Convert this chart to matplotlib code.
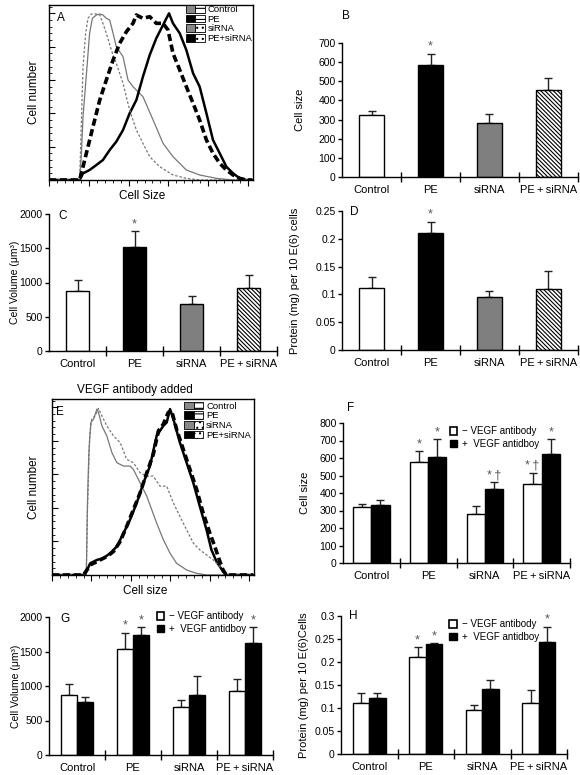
import matplotlib
matplotlib.use('Agg')
import matplotlib.pyplot as plt
from matplotlib.patches import Patch
from matplotlib.legend_handler import HandlerTuple
from matplotlib.ticker import AutoMinorLocator, MultipleLocator, FuncFormatter
import numpy as np

plt.rcParams['font.family'] = ['Liberation Sans', 'DejaVu Sans']
plt.rcParams['hatch.linewidth'] = 0.8

W, H = 580, 775

cats = ['Control', 'PE', 'siRNA', 'PE\u2009+\u2009siRNA']
hist_names = ['Control', 'PE', 'siRNA', 'PE+siRNA']

# ---- histogram A (x: channel, y: counts) ----
A_ctrl_x = [0, 15.4, 16.2, 17.1, 17.9, 19.1, 20.4, 21.8, 23.8, 25.5, 27.1, 28.8, 30.5, 32.2, 33.8, 35.5,
            37.2, 39.7, 42.2, 44.7, 47.2, 52.3, 57.3, 62.3, 69.0, 75.7, 84.1, 92.5, 102]
A_ctrl_y = [0, 0, 70, 190, 250, 340, 440, 485, 495, 498, 495, 485, 480, 440, 400, 385,
            370, 300, 280, 265, 250, 180, 110, 70, 30, 15, 5, 0, 0]
A_pe_x = [0, 15.4, 17.1, 20.4, 23.8, 27.1, 30.5, 33.8, 37.2, 40.5, 43.9, 47.2, 50.6, 53.9, 57.3, 59.0,
          60.3, 62.3, 65.7, 69.0, 72.4, 75.7, 79.1, 82.4, 85.8, 89.1, 92.5, 95.8, 99.2, 102]
A_pe_y = [0, 0, 20, 30, 45, 60, 90, 115, 150, 200, 240, 310, 375, 425, 465, 485,
          500, 470, 440, 390, 320, 280, 200, 120, 80, 40, 20, 5, 0, 0]
A_si_x = [0, 15.4, 17.1, 18.4, 19.6, 21.3, 23.8, 25.5, 27.1, 28.8, 31.3, 33.8, 37.2, 40.5, 43.9, 47.2,
          50.6, 55.6, 62.3, 69.0, 75.7, 102]
A_si_y = [0, 0, 340, 440, 485, 498, 498, 495, 470, 440, 390, 350, 290, 210, 150, 110,
          70, 40, 15, 5, 0, 0]
A_pesi_x = [0, 15.4, 17.1, 19.6, 22.1, 25.5, 28.8, 32.2, 35.5, 38.9, 42.2, 43.9, 47.2, 50.6, 53.9, 57.3,
            59.8, 62.3, 65.7, 69.0, 72.4, 75.7, 79.1, 82.4, 85.8, 89.1, 92.5, 95.8, 99.2, 102]
A_pesi_y = [0, 0, 40, 100, 160, 240, 300, 360, 410, 445, 470, 495, 485, 490, 470, 470,
            450, 380, 330, 280, 230, 180, 120, 80, 50, 30, 15, 5, 0, 0]

# ---- histogram E (VEGF antibody added) ----
E_ctrl_x = [0, 17.4, 18.0, 18.7, 19.7, 21.1, 22.8, 23.6, 25.3, 27.8, 30.4, 32.9, 36.3, 39.6, 41.3, 44.7,
            48.1, 50.6, 53.1, 56.5, 59.9, 63.2, 68.3, 73.4, 78.4, 102]
E_ctrl_y = [0, 0, 215, 365, 455, 465, 495, 485, 445, 415, 365, 335, 325, 325, 315, 275,
            235, 195, 155, 105, 65, 35, 15, 5, 0, 0]
E_pe_x = [0, 16.0, 17.4, 19.4, 22.8, 26.1, 29.5, 32.9, 36.3, 39.6, 43.0, 46.4, 49.7, 53.1, 56.5, 58.2,
          59.9, 61.6, 64.9, 68.3, 71.7, 75.0, 78.4, 80.9, 83.5, 85.2, 86.8, 88.5, 102]
E_pe_y = [0, 0, 10, 35, 45, 50, 65, 85, 125, 165, 215, 275, 325, 415, 445, 455,
          495, 465, 395, 335, 275, 205, 135, 75, 40, 25, 10, 0, 0]
E_si_x = [0, 17.4, 18.0, 19.1, 20.2, 21.9, 23.6, 25.3, 27.8, 31.2, 34.6, 37.9, 41.3, 44.7, 48.1, 51.4,
          54.8, 58.2, 61.6, 64.9, 68.3, 71.7, 75.0, 78.4, 81.8, 85.2, 86.8, 88.5, 102]
E_si_y = [0, 0, 195, 415, 465, 475, 497, 475, 445, 415, 395, 345, 335, 305, 295, 295,
          265, 265, 215, 175, 135, 95, 75, 60, 45, 25, 10, 0, 0]
E_pesi_x = [0, 16.0, 17.7, 19.4, 22.8, 27.8, 31.2, 34.6, 37.9, 41.3, 44.7, 48.1, 51.4, 54.0, 56.5, 59.0,
            60.7, 63.2, 66.6, 70.0, 73.4, 76.7, 80.1, 82.6, 85.2, 86.8, 88.5, 102]
E_pesi_y = [0, 0, 15, 30, 40, 55, 70, 100, 145, 195, 245, 305, 360, 430, 450, 485,
            490, 435, 375, 315, 255, 185, 125, 85, 40, 15, 0, 0]

# ---- single-bar panels ----
B_mean = [326, 584, 284, 453]
B_err = [17, 61, 44, 66]
C_mean = [871, 1525, 692, 920]
C_err = [160, 232, 116, 193]
D_mean = [0.111, 0.211, 0.096, 0.110]
D_err = [0.020, 0.020, 0.011, 0.032]
single_marks = ['', '*', '', '']

# ---- paired panels (- / + VEGF antibody) ----
F_minus = [318, 580, 279, 450]
F_minus_err = [19, 60, 46, 67]
F_plus = [333, 605, 423, 622]
F_plus_err = [27, 105, 38, 88]
F_minus_marks = ['', '*', '', '*\u2009\u2020']
F_plus_marks = ['', '*', '*\u2009\u2020', '*']

G_minus = [875, 1530, 690, 923]
G_minus_err = [160, 244, 112, 185]
G_plus = [762, 1739, 875, 1628]
G_plus_err = [73, 117, 266, 228]

H_minus = [0.111, 0.210, 0.096, 0.111]
H_minus_err = [0.021, 0.022, 0.011, 0.029]
H_plus = [0.122, 0.239, 0.141, 0.244]
H_plus_err = [0.010, 0.003, 0.020, 0.033]
GH_minus_marks = ['', '*', '', '']
GH_plus_marks = ['', '*', '', '*']

fig = plt.figure(figsize=(W / 100, H / 100), dpi=100)


def add_ax(l, t, r, b):
    return fig.add_axes([l / W, 1 - b / H, (r - l) / W, (b - t) / H])


def fmt_num(v, pos):
    return '%g' % v


def hist_panel(ax, curves, xlabel, xlab_pos, ylab_x, leg_pos):
    styles = [dict(color='#777777', lw=0.9, ls='-'),
              dict(color='black', lw=1.8, ls='-'),
              dict(color='#777777', lw=0.9, ls=(0, (2, 1.5))),
              dict(color='black', lw=2.6, ls=(0, (2, 1)))]
    for (x, y), st in zip(curves, styles):
        ax.plot(x, y, **st)
    ax.set_xlim(0, 102.5)
    ax.set_ylim(0, 525)
    ax.xaxis.set_major_locator(MultipleLocator(20))
    ax.xaxis.set_minor_locator(AutoMinorLocator(5))
    ax.yaxis.set_major_locator(MultipleLocator(100))
    ax.yaxis.set_minor_locator(AutoMinorLocator(5))
    ax.tick_params(axis='x', which='major', direction='out', length=4, labelbottom=False)
    ax.tick_params(axis='x', which='minor', direction='out', length=2)
    ax.tick_params(axis='y', which='major', direction='in', length=4, labelleft=False)
    ax.tick_params(axis='y', which='minor', direction='in', length=2)
    for s in ax.spines.values():
        s.set_linewidth(1)
    ax.set_xlabel(xlabel, fontsize=8.5)
    ax.xaxis.set_label_coords(*xlab_pos)
    ax.set_ylabel('Cell number', fontsize=8.5)
    ax.yaxis.set_label_coords(ylab_x, 0.5)
    handles = []
    for i in range(4):
        fc = '#888888' if i in (0, 2) else 'black'
        hatch = '---' if i < 2 else '...'
        handles.append((Patch(facecolor=fc, edgecolor='black', lw=0.6),
                        Patch(facecolor='white', edgecolor='black', hatch=hatch, lw=0.6)))
    ax.legend(handles, hist_names, handler_map={tuple: HandlerTuple(ndivide=None, pad=0)},
              loc='upper left', bbox_to_anchor=leg_pos, frameon=False, fontsize=6.8,
              handlelength=2.0, handleheight=0.9, handletextpad=0.3, labelspacing=0.05,
              borderaxespad=0, borderpad=0)


def bar_base(ax, ymax, ystep, ylabel, ylab_x, ylab_size=8):
    ax.set_xlim(-0.5, 3.5)
    ax.set_ylim(0, ymax)
    ax.yaxis.set_major_locator(MultipleLocator(ystep))
    ax.yaxis.set_major_formatter(FuncFormatter(fmt_num))
    ax.spines['top'].set_visible(False)
    ax.spines['right'].set_visible(False)
    ax.spines['left'].set_linewidth(1)
    ax.spines['bottom'].set_linewidth(1)
    ax.set_xticks([0.5, 1.5, 2.5, 3.5])
    ax.set_xticklabels([])
    ax.set_xticks([0, 1, 2, 3], minor=True)
    ax.set_xticklabels(cats, minor=True, fontsize=8)
    ax.tick_params(axis='x', which='major', direction='inout', length=7, width=1)
    ax.tick_params(axis='x', which='minor', length=0, pad=6)
    ax.tick_params(axis='y', direction='out', length=3, width=1, labelsize=7.5, pad=1.5)
    ax.set_ylabel(ylabel, fontsize=ylab_size)
    ax.yaxis.set_label_coords(ylab_x, 0.5)


def put_marks(ax, xs, tops, marks):
    for x, t, m in zip(xs, tops, marks):
        if m:
            ax.annotate(m, (x, t), xytext=(0, 0.5), textcoords='offset points',
                        ha='center', va='bottom', fontsize=9, color='#555555')


def single_panel(ax, mean, err, ymax, ystep, ylabel, ylab_x, ylab_size=8):
    x = np.arange(4)
    faces = ['white', 'black', '#7f7f7f', 'white']
    hatches = [None, None, None, '\\\\\\\\\\\\\\\\']
    for xi, m, fc, h in zip(x, mean, faces, hatches):
        ax.bar(xi, m, width=0.42, color=fc, edgecolor='black', linewidth=1, hatch=h, zorder=2)
    ax.errorbar(x, mean, yerr=[np.zeros(4), err], fmt='none', ecolor='#222222',
                elinewidth=1, capsize=3, capthick=1, zorder=1)
    put_marks(ax, x, np.array(mean) + np.array(err), single_marks)
    bar_base(ax, ymax, ystep, ylabel, ylab_x, ylab_size)


def pair_panel(ax, mneg, eneg, mpos, epos, bw, ymax, ystep, ylabel, ylab_x,
               marks_neg, marks_pos, leg_pos, ylab_size=8):
    x = np.arange(4)
    xn = x - bw / 2
    xp = x + bw / 2
    ax.bar(xn, mneg, width=bw, color='white', edgecolor='black', linewidth=1, zorder=2)
    ax.bar(xp, mpos, width=bw, color='black', edgecolor='black', linewidth=1, zorder=2)
    ax.errorbar(xn, mneg, yerr=[np.zeros(4), eneg], fmt='none', ecolor='#222222',
                elinewidth=1, capsize=3, capthick=1, zorder=1)
    ax.errorbar(xp, mpos, yerr=[np.zeros(4), epos], fmt='none', ecolor='#222222',
                elinewidth=1, capsize=3, capthick=1, zorder=1)
    put_marks(ax, xn, np.array(mneg) + np.array(eneg), marks_neg)
    put_marks(ax, xp, np.array(mpos) + np.array(epos), marks_pos)
    bar_base(ax, ymax, ystep, ylabel, ylab_x, ylab_size)
    hs = [Patch(facecolor='white', edgecolor='black', lw=1.2), Patch(facecolor='black', edgecolor='black')]
    ax.legend(hs, ['\u2212 VEGF antibody', '+  VEGF antidboy'], loc='upper left', bbox_to_anchor=leg_pos,
              frameon=False, fontsize=7, handlelength=0.8, handleheight=0.8, handletextpad=0.5,
              labelspacing=0.25, borderaxespad=0, borderpad=0)


# A
axA = add_ax(49, 5, 253, 180)
hist_panel(axA, [(A_ctrl_x, A_ctrl_y), (A_pe_x, A_pe_y), (A_si_x, A_si_y), (A_pesi_x, A_pesi_y)],
           'Cell Size', (0.455, -0.055), -0.045, (0.67, 1.0))

# B
axB = add_ax(342, 43, 578, 177)
single_panel(axB, B_mean, B_err, 700, 100, 'Cell size', -0.155)

# C
axC = add_ax(49, 214, 277, 351)
single_panel(axC, C_mean, C_err, 2000, 500, 'Cell Volume (\u03bcm\u00b3)', -0.125, ylab_size=7.5)

# D
axD = add_ax(342, 211, 578, 350)
single_panel(axD, D_mean, D_err, 0.25, 0.05, 'Protein (mg) per 10 E(6) cells', -0.178)

# E
axE = add_ax(52, 399, 254, 575)
hist_panel(axE, [(E_ctrl_x, E_ctrl_y), (E_pe_x, E_pe_y), (E_si_x, E_si_y), (E_pesi_x, E_pesi_y)],
           'Cell size', (0.46, -0.055), -0.06, (0.655, 0.985))
fig.text(135 / W, 1 - 390 / H, 'VEGF antibody added', ha='center', va='center', fontsize=8.5)

# F
axF = add_ax(343, 423, 570, 563)
pair_panel(axF, F_minus, F_minus_err, F_plus, F_plus_err, 0.32, 800, 100, 'Cell size', -0.145,
           F_minus_marks, F_plus_marks, (0.47, 0.975))

# G
axG = add_ax(49, 617, 273, 755)
pair_panel(axG, G_minus, G_minus_err, G_plus, G_plus_err, 0.29, 2000, 500, 'Cell Volume (\u03bcm\u00b3)', -0.125,
           GH_minus_marks, GH_plus_marks, (0.48, 1.04), ylab_size=7.5)

# H
axH = add_ax(341, 616, 567, 754)
pair_panel(axH, H_minus, H_minus_err, H_plus, H_plus_err, 0.29, 0.3, 0.05, 'Protein (mg) per 10 E(6)Cells', -0.14,
           GH_minus_marks, GH_plus_marks, (0.48, 0.975))

# panel letters
letters = ['A', 'B', 'C', 'D', 'E', 'F', 'G', 'H']
letter_xy = [(57, 18), (342, 16), (58, 216), (350, 212), (56, 412), (347, 408), (60, 619), (349, 616)]
for s, (lx, ly) in zip(letters, letter_xy):
    fig.text(lx / W, 1 - ly / H, s, ha='left', va='center', fontsize=8.5)

fig.savefig('out.png', dpi=100)
